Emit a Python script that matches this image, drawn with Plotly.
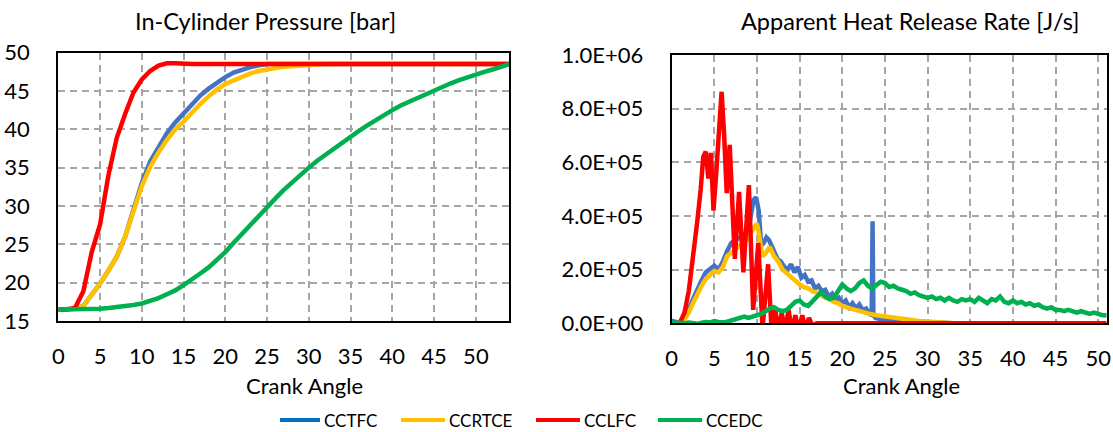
import plotly.graph_objects as go

# ---------------- data ----------------
series_names = ["CCTFC", "CCRTCE", "CCLFC", "CCEDC"]
series_colors = ["#4472C4", "#FFC000", "#FF0000", "#00B050"]
legend_colors = ["#0070C0", "#FFC000", "#FF0000", "#00B050"]

# In-cylinder pressure [bar] vs crank angle (1 deg steps, 0..54)
crank_p = list(range(0, 55))
p_cctfc = [16.5, 16.5, 16.6, 17.0, 18.4, 19.9, 21.6, 23.4, 26.0, 29.4,
           33.0, 35.8, 37.8, 39.5, 40.9, 42.1, 43.3, 44.4, 45.3, 46.1,
           46.8, 47.4, 47.8, 48.1, 48.35, 48.5, 48.5, 48.5, 48.5, 48.5,
           48.5, 48.5, 48.5, 48.5, 48.5, 48.5, 48.5, 48.5, 48.5, 48.5,
           48.5, 48.5, 48.5, 48.5, 48.5, 48.5, 48.5, 48.5, 48.5, 48.5,
           48.5, 48.5, 48.5, 48.5, 48.5]
p_ccrtce = [16.5, 16.5, 16.6, 17.0, 18.4, 19.9, 21.6, 23.4, 26.0, 29.4,
            32.6, 35.1, 37.0, 38.6, 40.0, 41.0, 42.2, 43.3, 44.3, 45.2,
            45.9, 46.4, 46.9, 47.3, 47.6, 47.85, 48.0, 48.15, 48.25, 48.35,
            48.4, 48.45, 48.5, 48.5, 48.5, 48.5, 48.5, 48.5, 48.5, 48.5,
            48.5, 48.5, 48.5, 48.5, 48.5, 48.5, 48.5, 48.5, 48.5, 48.5,
            48.5, 48.5, 48.5, 48.5, 48.5]
p_cclfc = [16.5, 16.5, 16.7, 18.9, 24.0, 27.6, 34.0, 38.9, 42.0, 44.8,
           46.5, 47.6, 48.3, 48.6, 48.6, 48.5, 48.5, 48.5, 48.5, 48.5,
           48.5, 48.5, 48.5, 48.5, 48.5, 48.5, 48.5, 48.5, 48.5, 48.5,
           48.5, 48.5, 48.5, 48.5, 48.5, 48.5, 48.5, 48.5, 48.5, 48.5,
           48.5, 48.5, 48.5, 48.5, 48.5, 48.5, 48.5, 48.5, 48.5, 48.5,
           48.5, 48.5, 48.5, 48.5, 48.5]
p_ccedc = [16.5, 16.5, 16.5, 16.52, 16.55, 16.6, 16.7, 16.8, 16.95, 17.1,
           17.3, 17.6, 18.0, 18.5, 19.0, 19.7, 20.4, 21.2, 22.0, 23.0,
           24.0, 25.2, 26.4, 27.6, 28.8, 30.0, 31.0, 32.1, 33.1, 34.1,
           35.0, 35.9, 36.7, 37.5, 38.3, 39.0, 39.8, 40.5, 41.2, 41.9,
           42.5, 43.1, 43.6, 44.1, 44.6, 45.1, 45.6, 46.0, 46.4, 46.8,
           47.1, 47.5, 47.8, 48.2, 48.5]

# Apparent heat release rate [J/s]
x_hrr_cctfc = [0, 0.5, 1.0, 1.5, 2, 2.5, 3, 3.5, 4, 4.5, 5, 5.5, 6, 6.5, 7, 7.5,
               8, 8.5, 9, 9.3, 9.6, 9.9, 10.2, 10.5, 10.8, 11.1, 11.4, 11.7, 12.0,
               12.4, 12.8, 13.2, 13.6, 14.0, 14.4, 14.8, 15.2, 15.6, 16.0, 16.4,
               16.8, 17.2, 17.6, 18.0, 18.4, 18.8, 19.2, 19.6, 20.0, 20.4, 20.8,
               21.2, 21.6, 22.0, 22.4, 22.8, 23.2, 23.45, 23.55, 23.65, 23.9,
               24.5, 25, 26, 27, 28, 29, 30, 31, 32, 33, 34]
hrr_cctfc = [0.1e5, 0.05e5, 0.0, 0.2e5, 0.5e5, 0.9e5, 1.3e5, 1.6e5, 1.9e5, 2.05e5,
             2.15e5, 2.0e5, 2.3e5, 2.7e5, 3.0e5, 3.1e5, 3.2e5, 3.3e5, 3.5e5, 4.0e5,
             4.6e5, 4.7e5, 4.2e5, 2.9e5, 3.0e5, 3.2e5, 3.1e5, 2.9e5, 2.7e5, 2.4e5,
             2.3e5, 2.1e5, 2.0e5, 2.2e5, 1.9e5, 2.1e5, 1.7e5, 1.8e5, 1.55e5, 1.6e5,
             1.3e5, 1.4e5, 1.2e5, 1.25e5, 1.0e5, 1.1e5, 0.85e5, 0.95e5, 0.75e5,
             0.85e5, 0.6e5, 0.75e5, 0.55e5, 0.7e5, 0.5e5, 0.55e5, 0.35e5, 0.3e5,
             3.8e5, 0.3e5, 0.2e5, 0.15e5, 0.12e5, 0.1e5, 0.08e5, 0.06e5, 0.05e5,
             0.03e5, 0.02e5, 0.01e5, 0.0, 0.0]

x_hrr_ccrtce = [0, 0.5, 1, 1.5, 2, 2.5, 3, 3.5, 4, 4.5, 5, 5.5, 6, 6.5, 7, 7.5, 8,
                8.5, 9, 9.5, 10, 10.3, 10.6, 11, 11.5, 12, 12.5, 13, 13.5, 14, 14.5,
                15, 15.5, 16, 16.5, 17, 17.5, 18, 18.5, 19, 19.5, 20, 21, 22, 23,
                24, 25, 26, 27, 28, 29, 30, 31, 32, 33]
hrr_ccrtce = [0.0, 0.0, 0.0, 0.15e5, 0.4e5, 0.75e5, 1.1e5, 1.4e5, 1.65e5, 1.8e5,
              1.95e5, 1.9e5, 2.1e5, 2.5e5, 2.65e5, 2.8e5, 2.9e5, 3.0e5, 3.2e5,
              3.5e5, 3.72e5, 3.2e5, 2.5e5, 2.6e5, 2.85e5, 2.5e5, 2.3e5, 2.0e5,
              1.85e5, 1.75e5, 1.6e5, 1.45e5, 1.35e5, 1.3e5, 1.2e5, 1.15e5, 1.05e5,
              0.95e5, 0.9e5, 0.8e5, 0.75e5, 0.65e5, 0.55e5, 0.45e5, 0.37e5, 0.3e5,
              0.25e5, 0.2e5, 0.16e5, 0.12e5, 0.09e5, 0.07e5, 0.05e5, 0.03e5, 0.0]

x_hrr_cclfc = [0, 0.5, 1.0, 1.5, 2.0, 2.5, 3.0, 3.4, 3.7, 4.0, 4.3, 4.6, 4.9, 5.2,
               5.5, 5.85, 6.15, 6.45, 6.8, 7.1, 7.4, 7.9, 8.4, 9.05, 9.55, 10.15,
               10.65, 11.3, 11.7, 12.1, 12.5, 12.9, 13.3, 13.7, 14.1, 14.5, 14.9,
               15.3, 15.7, 16.1, 16.5, 17.0, 18, 20, 30, 40, 51]
hrr_cclfc = [0.0, 0.0, 0.05e5, 0.4e5, 1.2e5, 2.4e5, 3.8e5, 5.0e5, 6.2e5, 6.4e5,
             5.4e5, 6.35e5, 4.2e5, 5.5e5, 7.0e5, 8.63e5, 7.0e5, 4.85e5, 6.65e5,
             4.5e5, 2.4e5, 4.9e5, 1.9e5, 5.15e5, 0.5e5, 3.0e5, -0.2e5, 2.2e5,
             -0.2e5, 0.6e5, -0.3e5, 0.4e5, -0.3e5, 0.5e5, -0.3e5, 0.3e5, -0.3e5,
             0.3e5, -0.2e5, 0.2e5, -0.1e5, 0.0, 0.0, 0.0, 0.0, 0.0, 0.0]

x_hrr_ccedc = [i * 0.5 for i in range(0, 103)]
hrr_ccedc = [0.05e5, 0.0, 0.02e5, 0.0, 0.03e5, 0.01e5, -0.02e5, 0.02e5, 0.05e5,
             0.03e5, 0.08e5, 0.05e5, 0.03e5, 0.06e5, 0.1e5, 0.13e5, 0.2e5, 0.25e5,
             0.2e5, 0.25e5, 0.3e5, 0.35e5, 0.45e5, 0.55e5, 0.6e5, 0.5e5, 0.45e5,
             0.5e5, 0.65e5, 0.8e5, 0.85e5, 0.7e5, 0.65e5, 0.8e5, 1.0e5, 1.15e5,
             1.0e5, 0.9e5, 0.95e5, 1.2e5, 1.45e5, 1.3e5, 1.2e5, 1.3e5, 1.5e5,
             1.6e5, 1.4e5, 1.3e5, 1.45e5, 1.55e5, 1.5e5, 1.35e5, 1.4e5, 1.3e5,
             1.25e5, 1.2e5, 1.1e5, 1.15e5, 1.05e5, 1.0e5, 0.95e5, 1.0e5, 0.9e5,
             0.95e5, 0.85e5, 0.95e5, 0.85e5, 0.8e5, 0.9e5, 0.85e5, 0.9e5, 0.8e5,
             0.95e5, 0.85e5, 0.75e5, 0.9e5, 0.85e5, 1.0e5, 0.8e5, 0.75e5, 0.85e5,
             0.75e5, 0.8e5, 0.7e5, 0.75e5, 0.65e5, 0.7e5, 0.6e5, 0.55e5, 0.6e5,
             0.5e5, 0.5e5, 0.45e5, 0.5e5, 0.45e5, 0.4e5, 0.45e5, 0.38e5, 0.35e5,
             0.4e5, 0.35e5, 0.3e5, 0.3e5]

x_ticks = [0, 5, 10, 15, 20, 25, 30, 35, 40, 45, 50]
p_ticks = [15, 20, 25, 30, 35, 40, 45, 50]
hrr_ticks = [0, 2e5, 4e5, 6e5, 8e5, 1e6]
hrr_tick_text = ["0.0E+00", "2.0E+05", "4.0E+05", "6.0E+05", "8.0E+05", "1.0E+06"]

# ---------------- figure ----------------
FONT = "Lato, 'Open Sans', sans-serif"
W, H = 1113, 432
fig = go.Figure()

p_series = [p_cctfc, p_ccrtce, p_cclfc, p_ccedc]
hrr_x = [x_hrr_cctfc, x_hrr_ccrtce, x_hrr_cclfc, x_hrr_ccedc]
hrr_y = [hrr_cctfc, hrr_ccrtce, hrr_cclfc, hrr_ccedc]

for name, color, ys in zip(series_names, series_colors, p_series):
    fig.add_trace(go.Scatter(x=crank_p, y=ys, mode="lines", name=name,
                             line=dict(color=color, width=4.5),
                             xaxis="x", yaxis="y", showlegend=False))
for name, color, xs, ys in zip(series_names, series_colors, hrr_x, hrr_y):
    fig.add_trace(go.Scatter(x=xs, y=ys, mode="lines", name=name,
                             line=dict(color=color, width=4.5),
                             xaxis="x2", yaxis="y2", showlegend=False))

grid = dict(showgrid=True, gridcolor="#A6A6A6", gridwidth=1.5, griddash="7px,5px",
            showline=True, linecolor="black", linewidth=2, mirror=True,
            zeroline=False, ticks="", automargin=False,
            tickfont=dict(family=FONT, size=22, color="black"))

fig.update_layout(
    template="none",
    width=W, height=H, autosize=False,
    margin=dict(l=0, r=0, t=0, b=0, pad=0, autoexpand=False),
    paper_bgcolor="white", plot_bgcolor="white",
    font=dict(family=FONT, color="black"),
    xaxis=dict(domain=[58.3 / W, 509.3 / W], range=[0, 54], tickvals=x_ticks,
               ticklabelstandoff=14, anchor="y", **grid),
    yaxis=dict(domain=[(H - 321.1) / H, (H - 52.6) / H], range=[15, 50],
               tickvals=p_ticks, ticklabelstandoff=22, anchor="x", **grid),
    xaxis2=dict(domain=[671.7 / W, 1106.7 / W], range=[0, 51], tickvals=x_ticks,
                ticklabelstandoff=14, anchor="y2", **grid),
    yaxis2=dict(domain=[(H - 323.3) / H, (H - 55) / H], range=[0, 1e6],
                tickvals=hrr_ticks, ticktext=hrr_tick_text, ticklabelstandoff=22,
                anchor="x2", **grid),
    showlegend=False,
)

annotations = [
    dict(text="In-Cylinder Pressure [bar]", x=265 / W, y=(H - 21) / H, size=23.5),
    dict(text="Apparent Heat Release Rate [J/s]", x=910 / W, y=(H - 21) / H, size=23.5),
    dict(text="Crank Angle", x=304 / W, y=(H - 385) / H, size=22),
    dict(text="Crank Angle", x=901 / W, y=(H - 385) / H, size=22),
]
for a in annotations:
    size = a.pop("size")
    fig.add_annotation(xref="paper", yref="paper", showarrow=False,
                       xanchor="center", yanchor="middle",
                       font=dict(family=FONT, size=size, color="black"), **a)

# legend (drawn manually to match the reference layout)
legend_line_x = [(280, 320), (401, 445), (536, 580), (658, 702)]
legend_y = 420
for name, color, (x0, x1) in zip(series_names, legend_colors, legend_line_x):
    fig.add_shape(type="line", xref="paper", yref="paper",
                  x0=x0 / W, x1=x1 / W, y0=(H - legend_y) / H, y1=(H - legend_y) / H,
                  line=dict(color=color, width=4))
    fig.add_annotation(xref="paper", yref="paper", showarrow=False,
                       x=(x1 + 2) / W, y=(H - legend_y) / H, xanchor="left",
                       yanchor="middle", text=name,
                       font=dict(family=FONT, size=17, color="black"))

fig.write_html("out.html")
